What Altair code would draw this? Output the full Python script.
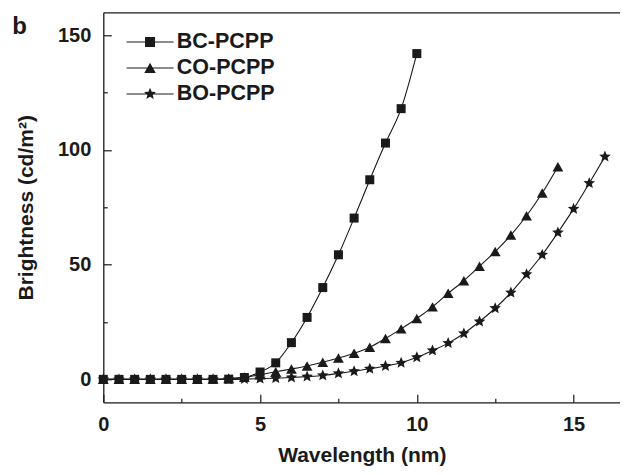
import math
import altair as alt
import pandas as pd

FONT = "Liberation Sans"
INK = "#1a1a1a"

series = ["BC-PCPP", "CO-PCPP", "BO-PCPP"]

x_bc = [0, 0.5, 1, 1.5, 2, 2.5, 3, 3.5, 4, 4.5, 5, 5.5, 6, 6.5, 7, 7.5, 8, 8.5, 9, 9.5, 10]
y_bc = [0, 0, 0, 0, 0, 0, 0, 0, 0.1, 0.8, 3.2, 7.2, 16, 27, 40, 54.3, 70.3, 87, 103, 118, 142]

x_co = [0, 0.5, 1, 1.5, 2, 2.5, 3, 3.5, 4, 4.5, 5, 5.5, 6, 6.5, 7, 7.5, 8, 8.5, 9, 9.5,
        10, 10.5, 11, 11.5, 12, 12.5, 13, 13.5, 14, 14.5]
y_co = [0, 0, 0, 0, 0, 0, 0, 0.1, 0.4, 1.0, 2.0, 3.3, 4.5, 5.8, 7.5, 9.3, 11.4, 14, 17.8, 22,
        26.5, 31.6, 37.5, 43, 49.3, 55.7, 62.9, 71.3, 81.2, 92.7]

x_bo = [0, 0.5, 1, 1.5, 2, 2.5, 3, 3.5, 4, 4.5, 5, 5.5, 6, 6.5, 7, 7.5, 8, 8.5, 9, 9.5,
        10, 10.5, 11, 11.5, 12, 12.5, 13, 13.5, 14, 14.5, 15, 15.5, 16]
y_bo = [0, 0, 0, 0, 0, 0, 0, 0, 0, 0.1, 0.3, 0.5, 0.8, 1.2, 1.7, 2.6, 3.5, 4.6, 5.8, 7.2,
        9.6, 12.6, 15.8, 20, 25.2, 31, 37.8, 45.8, 54.3, 64, 74.3, 85.5, 97.1]

x_major = [0, 5, 10, 15]
x_minor = [2.5, 7.5, 12.5]
y_major = [0, 50, 100, 150]
y_minor = [25, 75, 125]

rows = []
for name, xs, ys in [(series[0], x_bc, y_bc), (series[1], x_co, y_co), (series[2], x_bo, y_bo)]:
    for xv, yv in zip(xs, ys):
        rows.append({"series": name, "x": xv, "y": yv})
df = pd.DataFrame(rows)


def star_path(R, ratio=0.45):
    pts = []
    for i in range(10):
        a = math.radians(-90 + 36 * i)
        r = R if i % 2 == 0 else R * ratio
        pts.append(f"{r * math.cos(a):.3f},{r * math.sin(a):.3f}")
    return "M" + "L".join(pts) + "Z"


sq = "M-1,-1H1V1H-1Z"
tri = "M0,-1.05L1.2,1.05L-1.2,1.05Z"
st = star_path(1.35)
marker_paths = [sq, tri, st]

# legend glyph: thin filled bar (the line) plus the marker
seg = "M-4.7,-0.11H4.7V0.11H-4.7Z"
leg_sq = seg + "M-1,-1H1V1H-1Z"
leg_tri = seg + "M0,-1.05L1.15,1L-1.15,1Z"
leg_st = seg + star_path(1.25)

xscale = alt.Scale(domain=[0, 16.49], nice=False, zero=False)
yscale = alt.Scale(domain=[-10, 160], nice=False, zero=False)

base = alt.Chart(df)

lines = base.mark_line(color=INK, strokeWidth=1.1, interpolate="monotone").encode(
    x=alt.X("x:Q", scale=xscale,
            axis=alt.Axis(orient="bottom", values=x_major, ticks=False, domain=True,
                          domainColor=INK, domainWidth=1.3, labelPadding=12.5,
                          labelFlush=False,
                          title="Wavelength (nm)", titlePadding=9.5)),
    y=alt.Y("y:Q", scale=yscale,
            axis=alt.Axis(orient="left", values=y_major, ticks=False, domain=True,
                          domainColor=INK, domainWidth=1.3, labelPadding=12.5,
                          labelFlush=False,
                          title="Brightness (cd/m²)", titlePadding=21)),
    detail="series:N",
)

# one marker layer per series (constant custom shape); the first carries the major ticks
marker_layers = []
for i, (name, path) in enumerate(zip(series, marker_paths)):
    if i == 0:
        xax = alt.Axis(orient="bottom", values=x_major, domain=False, labels=False,
                       tickSize=8, tickColor=INK, tickWidth=1.2, offset=-8, title="")
        yax = alt.Axis(orient="left", values=y_major, domain=False, labels=False,
                       tickSize=8, tickColor=INK, tickWidth=1.2, offset=-8, title="")
    else:
        xax = None
        yax = None
    marker_layers.append(
        base.transform_filter(alt.datum.series == name).mark_point(
            filled=True, size=81, color=INK, opacity=1, shape=path
        ).encode(
            x=alt.X("x:Q", scale=xscale, axis=xax),
            y=alt.Y("y:Q", scale=yscale, axis=yax),
        )
    )

minor = base.mark_point(opacity=0).encode(
    x=alt.X("x:Q", scale=xscale,
            axis=alt.Axis(orient="bottom", values=x_minor, domain=False, labels=False,
                          tickSize=4, tickColor=INK, tickWidth=1.2, offset=-4, title="")),
    y=alt.Y("y:Q", scale=yscale,
            axis=alt.Axis(orient="left", values=y_minor, domain=False, labels=False,
                          tickSize=4, tickColor=INK, tickWidth=1.2, offset=-4, title="")),
)

top = base.mark_point(opacity=0).encode(
    x=alt.X("x:Q", scale=xscale,
            axis=alt.Axis(orient="top", values=x_major, domain=True, domainColor=INK,
                          domainWidth=1.3, labels=False, ticks=False, title="")),
    y=alt.Y("y:Q", scale=yscale, axis=None),
)

legend_layer = base.transform_filter("false").mark_point(
    filled=True, size=100, color=INK, opacity=1
).encode(
    x=alt.X("x:Q", scale=xscale, axis=None),
    y=alt.Y("y:Q", scale=yscale, axis=None),
    shape=alt.Shape("series:N",
                    scale=alt.Scale(domain=series, range=[leg_sq, leg_tri, leg_st]),
                    legend=alt.Legend(
                        title=None, orient="none", legendX=36, legendY=19, padding=0,
                        rowPadding=3, labelFontSize=21.5, labelFont=FONT,
                        labelFontWeight="bold", labelColor=INK, labelOffset=16,
                        symbolOffset=0, symbolSize=100, symbolFillColor=INK,
                        symbolOpacity=1)),
)

chart = alt.layer(lines, *marker_layers, minor, top, legend_layer).resolve_axis(
    x="independent", y="independent"
).properties(
    width=517, height=390,
    autosize="none",
    padding={"left": 95.3, "top": 4.3, "right": 0, "bottom": 64},
    title=alt.TitleParams(text="b", anchor="start", frame="group", fontSize=24,
                          fontWeight="bold", font=FONT, color=INK, dx=-91, dy=46,
                          offset=0, baseline="alphabetic"),
).configure_axis(
    grid=False, labelFont=FONT, labelFontSize=20, labelFontWeight="bold",
    labelColor=INK, titleFont=FONT, titleFontSize=21, titleFontWeight="bold",
    titleColor=INK,
).configure_view(stroke="transparent")

chart.save("out.html", embed_options={"renderer": "svg", "actions": False})
